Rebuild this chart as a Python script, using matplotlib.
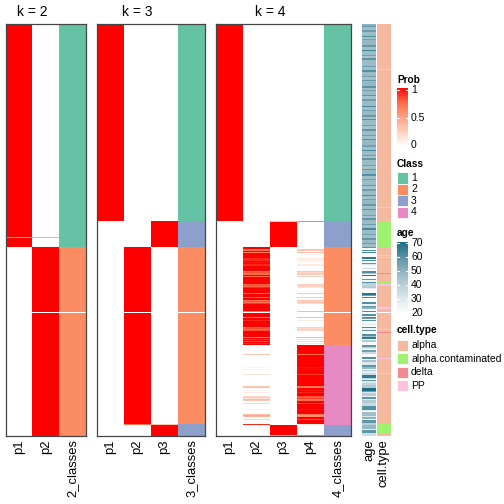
import numpy as np
import matplotlib
matplotlib.use("Agg")
import matplotlib.pyplot as plt
from matplotlib.colors import LinearSegmentedColormap, ListedColormap, BoundaryNorm
from matplotlib.patches import Rectangle

plt.rcParams["font.family"] = ["Liberation Sans", "DejaVu Sans"]

# ---------------- data ----------------
# class membership of the samples, top to bottom, as (class, number of samples)
k2_class_runs = [(1, 223), (2, 188)]
k3_class_runs = [(1, 197), (3, 26), (2, 176), (3, 12)]
k4_class_runs = [(1, 197), (3, 26), (2, 97), (4, 80), (3, 11)]

# samples with a split membership: (sample, {column: prob})
k2_mixed = [(213, {1: 0.55, 2: 0.45})]
k3_mixed = [(399, {2: 0.7, 3: 0.3})]
k4_mixed = [(197, {3: 0.35, 4: 0.65}), (410, {3: 0.4, 4: 0.6})]

# k = 4, class 2 block: offsets of samples with some p4 (p2 = 1 - p4)
k4_c2_offsets = [2, 3, 5, 11, 12, 13, 15, 17, 18, 24, 25, 26, 27, 29, 37, 38, 39, 40,
                 46, 50, 53, 54, 55, 56, 64, 69, 72, 79, 80, 81, 82, 89, 91, 93, 95]
k4_c2_p4 = [0.3, 0.3, 0.35, 0.1, 0.1, 0.1, 0.05, 0.1, 0.1, 0.3, 0.2, 0.3, 0.25, 0.25,
            0.25, 0.2, 0.25, 0.1, 0.3, 0.25, 0.3, 0.2, 0.3, 0.15, 0.35, 0.35, 0.1,
            0.25, 0.2, 0.25, 0.2, 0.4, 0.15, 0.2, 0.1]
# k = 4, class 4 block: offsets of samples with some p2 (p4 = 1 - p2)
k4_c4_offsets = [9, 22, 24, 29, 41, 42, 45, 47, 51, 52, 53, 54, 55, 58, 64, 69, 70, 71,
                 74, 79]
k4_c4_p2 = [0.3, 0.05, 0.05, 0.15, 0.3, 0.35, 0.05, 0.1, 0.2, 0.25, 0.15, 0.35, 0.3,
            0.2, 0.05, 0.35, 0.45, 0.4, 0.2, 0.9]

# age annotation as (age, number of samples)
age_runs = [
    (50, 2), (58, 1), (46, 3), (56, 2), (47, 4), (61, 1), (46, 2), (55, 1), (48, 5),
    (57, 2), (46, 3), (63, 1), (47, 4), (55, 1), (45, 2), (59, 2), (47, 6), (56, 1),
    (46, 3), (60, 2), (47, 4), (55, 1), (45, 3), (57, 1), (48, 5), (59, 2), (46, 2),
    (55, 1), (47, 4), (58, 1), (45, 3), (56, 2), (47, 5), (62, 1), (46, 3), (55, 1),
    (48, 4), (57, 2), (46, 2), (60, 1), (47, 5), (55, 1), (45, 3), (58, 2), (47, 4),
    (56, 1), (46, 3), (59, 1), (48, 5), (55, 2), (46, 3), (62, 1), (47, 4), (56, 1),
    (45, 2), (58, 2), (47, 5), (55, 1), (46, 3), (57, 1), (48, 4), (60, 2), (46, 3),
    (55, 1), (47, 5), (58, 1), (45, 3), (56, 2), (47, 4), (61, 1), (46, 3), (55, 1),
    (48, 4), (57, 2), (46, 3), (59, 1), (47, 5), (55, 1), (45, 2), (58, 2), (47, 4),
    (56, 1), (46, 3), (62, 2), (47, 4), (55, 1), (46, 3), (58, 2), (47, 3), (56, 1),
    (46, 3),
    # lower part, first slice
    (58, 1), (22, 2), (60, 1), (24, 1), (62, 1), (22, 4), (66, 2), (25, 1), (60, 1),
    (22, 2), (58, 1), (30, 1), (22, 3), (35, 1), (22, 2), (60, 2), (45, 1), (22, 1),
    (68, 1), (22, 3), (58, 1), (24, 2), (60, 1), (38, 3), (42, 2), (28, 1), (22, 4),
    (68, 2), (55, 1), (22, 1), (62, 1), (22, 4), (60, 2), (26, 2), (58, 1), (50, 2),
    (24, 2), (60, 1),
    # second slice
    (22, 1), (60, 2), (24, 1), (62, 1), (55, 1), (22, 1), (60, 1), (22, 3), (30, 1),
    (22, 2), (62, 1), (25, 2), (58, 1), (22, 3), (60, 2), (45, 1), (66, 2), (22, 1),
    (42, 2), (22, 3), (58, 2), (40, 1), (30, 1), (22, 1), (55, 2), (35, 2), (22, 3),
    (60, 2), (24, 1), (45, 2), (30, 3), (58, 2), (48, 2), (24, 1), (42, 1), (28, 2),
    (35, 2), (66, 3), (40, 1), (24, 1), (58, 1), (30, 2), (38, 2), (42, 3), (70, 3),
    (55, 1), (30, 1), (40, 3), (26, 1), (58, 2), (30, 1), (42, 3), (36, 3), (60, 4),
    (28, 1), (22, 1), (46, 4), (30, 1), (50, 2), (24, 1), (58, 3), (40, 2), (48, 4),
    (28, 1), (58, 3), (35, 3),
]

cell_types = ["alpha", "alpha.contaminated", "delta", "PP"]
cell_type_colors = ["#F5B9A0", "#9EF26F", "#F28B8F", "#FCC2DE"]
celltype_runs = [
    ("alpha", 45), ("PP", 1), ("alpha", 137), ("PP", 1), ("alpha", 14),
    ("alpha.contaminated", 25), ("alpha", 8), ("PP", 1), ("alpha", 1), ("PP", 1),
    ("alpha", 15), ("delta", 1), ("alpha", 8), ("alpha.contaminated", 1), ("alpha", 1),
    ("PP", 2), ("alpha", 21), ("PP", 2), ("alpha", 3),
    ("alpha", 16), ("PP", 1), ("alpha", 2), ("delta", 1), ("alpha", 25), ("PP", 1),
    ("alpha", 14), ("PP", 1), ("alpha", 50), ("alpha.contaminated", 10), ("alpha", 2),
]

class_colors = ["#66C2A5", "#FC8D62", "#8DA0CB", "#E78AC3"]
first_slice = 288  # samples above the row gap

# ---------------- helpers ----------------
def expand(runs):
    out = []
    for v, n in runs:
        out += [v] * n
    return out


def with_gap(arr):
    arr = np.asarray(arr, dtype=float)
    return np.insert(arr, first_slice, np.nan)


def membership(runs, k, mixed):
    cls = np.array(expand(runs))
    p = np.zeros((len(cls), k))
    p[np.arange(len(cls)), cls - 1] = 1.0
    for j, vals in mixed:
        for c, v in vals.items():
            p[j, c - 1] = v
    return cls, p


k2_cls, k2_p = membership(k2_class_runs, 2, k2_mixed)
k3_cls, k3_p = membership(k3_class_runs, 3, k3_mixed)
k4_cls, k4_p = membership(k4_class_runs, 4, k4_mixed)
c2_start = 197 + 26
c4_start = c2_start + 97
for s, v in zip(k4_c2_offsets, k4_c2_p4):
    k4_p[c2_start + s, 3] = v
    k4_p[c2_start + s, 1] = 1 - v
for s, v in zip(k4_c4_offsets, k4_c4_p2):
    k4_p[c4_start + s, 1] = v
    k4_p[c4_start + s, 3] = 1 - v

ages = np.array(expand(age_runs), dtype=float)
ctype = np.array([cell_types.index(c) for c in expand(celltype_runs)], dtype=float)
assert len(ages) == len(k2_cls) == len(ctype) == 411

NROW = 412

prob_cmap = LinearSegmentedColormap.from_list(
    "prob", ["#FFFFFF", "#FFCFBE", "#FF9E81", "#FF6846", "#FF0000"]).with_extremes(bad="white")
age_cmap = LinearSegmentedColormap.from_list(
    "age", ["#FFFFFF", "#D5E3E8", "#A6C3CD", "#6598AA", "#1A6F87"]).with_extremes(bad="white")
class_cmap = ListedColormap(class_colors).with_extremes(bad="white")
class_norm = BoundaryNorm([0.5, 1.5, 2.5, 3.5, 4.5], 4)
ct_cmap = ListedColormap(cell_type_colors).with_extremes(bad="white")
ct_norm = BoundaryNorm([-0.5, 0.5, 1.5, 2.5, 3.5], 4)

# ---------------- figure ----------------
W = H = 504
fig = plt.figure(figsize=(5.04, 5.04), dpi=100)


def px_axes(x0, y0, x1, y1):
    return fig.add_axes([x0 / W, 1 - y1 / H, (x1 - x0) / W, (y1 - y0) / H])


def column(ax, c, values, cmap, norm):
    ax.imshow(np.asarray(values)[:, None], cmap=cmap, norm=norm, aspect="auto",
              interpolation="nearest", extent=(c, c + 1, NROW, 0))


def finish(ax, n, labels, border=True):
    ax.set_xlim(0, n)
    ax.set_ylim(NROW, 0)
    ax.set_yticks([])
    ax.set_xticks(np.arange(n) + 0.5)
    ax.set_xticklabels(labels, rotation=90, fontsize=9.4)
    ax.tick_params(axis="x", length=0, pad=2.5)
    for sp in ax.spines.values():
        if border:
            sp.set_color("#454545")
            sp.set_linewidth(0.9)
        else:
            sp.set_visible(False)


panels = [(2, k2_cls, k2_p, 5.5, 86), (3, k3_cls, k3_p, 97, 205), (4, k4_cls, k4_p, 216, 351)]
top, bottom = 24, 436
for k, cls, p, x0, x1 in panels:
    ax = px_axes(x0, top, x1, bottom)
    for c in range(k):
        column(ax, c, with_gap(p[:, c]), prob_cmap, plt.Normalize(0, 1))
    column(ax, k, with_gap(cls), class_cmap, class_norm)
    finish(ax, k + 1, [f"p{i + 1}" for i in range(k)] + [f"{k}_classes"])
    xc = x0 + (x1 - x0) * k / (k + 1) / 2
    fig.text(xc / W, 1 - 16 / H, f"k = {k}", ha="center", va="baseline", fontsize=10)

ax_age = px_axes(362, top, 376, bottom)
column(ax_age, 0, with_gap(ages), age_cmap, plt.Normalize(20, 70))
finish(ax_age, 1, ["age"], border=False)
ax_ct = px_axes(377, top, 391, bottom)
column(ax_ct, 0, with_gap(ctype), ct_cmap, ct_norm)
finish(ax_ct, 1, ["cell.type"], border=False)

# ---------------- legends ----------------
LX, TX = 397, 411


def ftext(x, y, s, **kw):
    fig.text(x / W, 1 - y / H, s, va="center", **kw)


def colorbar(y0, y1, cmap, ticks, tick_y):
    cax = px_axes(LX, y0, LX + 11, y1)
    cax.imshow(np.linspace(1, 0, 256)[:, None], cmap=cmap, aspect="auto",
               extent=(0, 1, 0, 1))
    cax.set_xlim(0, 1)
    cax.set_ylim(0, 1)
    cax.axis("off")
    for t, ty in zip(ticks, tick_y):
        yy = (y1 - ty) / (y1 - y0)
        cax.plot([0, 0.22], [yy, yy], color="white", lw=0.8)
        cax.plot([0.78, 1], [yy, yy], color="white", lw=0.8)
        ftext(TX, ty, t, fontsize=7.5)


ftext(LX, 80, "Prob", fontsize=7.3, fontweight="bold")
colorbar(88, 146, prob_cmap, ["1", "0.5", "0"], [90, 118, 145])

ftext(LX, 164, "Class", fontsize=7.3, fontweight="bold")
for i, col in enumerate(class_colors):
    yc = 178 + i * 11.4
    fig.patches.append(Rectangle(((LX) / W, 1 - (yc + 5.5) / H), 11 / W, 11 / H,
                                 transform=fig.transFigure, facecolor=col,
                                 edgecolor="white", lw=0.6))
    ftext(TX, yc, str(i + 1), fontsize=7.5)

ftext(LX, 233, "age", fontsize=7.3, fontweight="bold")
colorbar(242, 313, age_cmap, ["70", "60", "50", "40", "30", "20"],
         [243.3, 257.3, 271.3, 285.3, 299.3, 312.7])

ftext(LX, 330, "cell.type", fontsize=7.3, fontweight="bold")
for i, (name, col) in enumerate(zip(cell_types, cell_type_colors)):
    yc = 345 + i * 13.6
    fig.patches.append(Rectangle((LX / W, 1 - (yc + 5.5) / H), 11 / W, 11 / H,
                                 transform=fig.transFigure, facecolor=col,
                                 edgecolor="white", lw=0.6))
    ftext(TX, yc, name, fontsize=7.5)

fig.savefig("out.png", dpi=100)
